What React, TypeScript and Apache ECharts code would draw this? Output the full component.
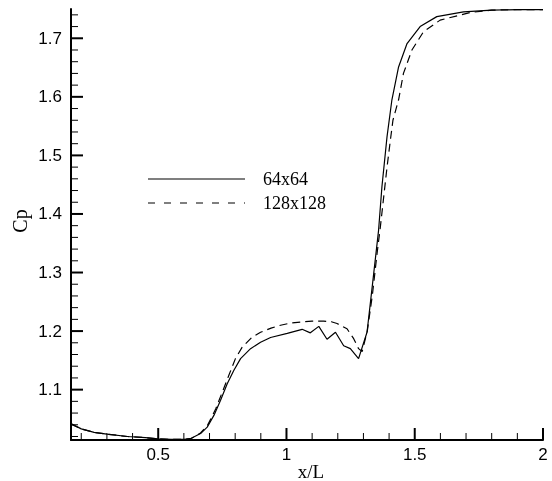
import React, { useEffect, useRef } from "react";
import * as echarts from "echarts";

const xCoarse = [0.16, 0.2, 0.25, 0.3, 0.38, 0.45, 0.5, 0.55, 0.6, 0.627, 0.665, 0.691, 0.717, 0.743, 0.769, 0.795, 0.821, 0.86, 0.899, 0.938, 1.003, 1.061, 1.093, 1.126, 1.158, 1.191, 1.223, 1.249, 1.281, 1.314, 1.34, 1.359, 1.372, 1.392, 1.411, 1.437, 1.47, 1.521, 1.586, 1.69, 1.8, 1.9, 2.0];
const cpCoarse = [1.042, 1.033, 1.027, 1.024, 1.020, 1.018, 1.016, 1.015, 1.015, 1.0165, 1.025, 1.036, 1.056, 1.082, 1.110, 1.133, 1.153, 1.170, 1.181, 1.189, 1.196, 1.203, 1.197, 1.208, 1.186, 1.198, 1.175, 1.170, 1.153, 1.198, 1.298, 1.372, 1.446, 1.532, 1.595, 1.651, 1.691, 1.720, 1.737, 1.745, 1.748, 1.749, 1.749];

const xFine = [0.16, 0.2, 0.25, 0.3, 0.38, 0.45, 0.5, 0.55, 0.6, 0.63, 0.665, 0.691, 0.724, 0.75, 0.775, 0.801, 0.828, 0.867, 0.899, 0.94, 0.977, 1.02, 1.067, 1.1, 1.145, 1.175, 1.197, 1.236, 1.262, 1.281, 1.295, 1.315, 1.335, 1.353, 1.366, 1.379, 1.392, 1.405, 1.415, 1.437, 1.456, 1.489, 1.534, 1.599, 1.716, 1.8, 1.9, 2.0];
const cpFine = [1.041, 1.033, 1.027, 1.024, 1.020, 1.018, 1.016, 1.015, 1.015, 1.017, 1.026, 1.038, 1.067, 1.096, 1.124, 1.153, 1.173, 1.190, 1.198, 1.205, 1.210, 1.214, 1.216, 1.217, 1.217, 1.216, 1.213, 1.204, 1.187, 1.170, 1.165, 1.200, 1.262, 1.332, 1.378, 1.429, 1.480, 1.526, 1.560, 1.595, 1.640, 1.680, 1.711, 1.731, 1.744, 1.748, 1.749, 1.749];

const xMajorTicks = [0.5, 1, 1.5, 2];
const xMinorTicks = [0.2, 0.3, 0.4, 0.6, 0.7, 0.8, 0.9, 1.1, 1.2, 1.3, 1.4, 1.6, 1.7, 1.8, 1.9];
const yMajorTicks = [1.1, 1.2, 1.3, 1.4, 1.5, 1.6, 1.7];
const yMinorTicks = [1.02, 1.04, 1.06, 1.08, 1.12, 1.14, 1.16, 1.18, 1.22, 1.24, 1.26, 1.28, 1.32, 1.34, 1.36, 1.38, 1.42, 1.44, 1.46, 1.48, 1.52, 1.54, 1.56, 1.58, 1.62, 1.64, 1.66, 1.68, 1.72, 1.74];

const seriesNames = ["64x64", "128x128"];

export default function App() {
  const ref = useRef<HTMLDivElement>(null);
  useEffect(() => {
    if (!ref.current) return;
    const chart = echarts.init(ref.current, null, { renderer: "svg" });
    const XMIN = 0.16, XMAX = 2, YMIN = 1.014, YMAX = 1.75;

    const makeStatic = (): any[] => [
      { type: "line", shape: { x1: 148, y1: 179, x2: 245, y2: 179 }, style: { stroke: "#000", lineWidth: 1.2 } },
      { type: "line", shape: { x1: 148, y1: 203, x2: 245, y2: 203 }, style: { stroke: "#000", lineWidth: 1.2, lineDash: [7, 9] } },
      { type: "text", x: 263, y: 179, style: { text: seriesNames[0], fill: "#000", font: "18px 'Liberation Serif'", textVerticalAlign: "middle", verticalAlign: "middle" } },
      { type: "text", x: 263, y: 203, style: { text: seriesNames[1], fill: "#000", font: "18px 'Liberation Serif'", textVerticalAlign: "middle", verticalAlign: "middle" } },
      { type: "text", x: 311, y: 471, style: { text: "x/L", fill: "#000", font: "19px 'Liberation Serif'", align: "center", verticalAlign: "middle", textAlign: "center", textVerticalAlign: "middle" } },
      { type: "text", x: 20, y: 221, rotation: Math.PI / 2, style: { text: "Cp", fill: "#000", font: "20px 'Liberation Serif'", align: "center", verticalAlign: "middle", textAlign: "center", textVerticalAlign: "middle" } },
    ];

    chart.setOption({
      animation: false,
      grid: { left: 71, right: 9, top: 9, bottom: 41, containLabel: false, outerBoundsMode: "none" },
      xAxis: {
        type: "value",
        min: XMIN,
        max: XMAX,
        axisLine: { show: true, onZero: false, lineStyle: { color: "#000", width: 2 } },
        axisTick: { show: false },
        axisLabel: { show: true, customValues: xMajorTicks, margin: 6, color: "#000", fontSize: 17, fontFamily: "Liberation Sans" },
        splitLine: { show: false },
      },
      yAxis: {
        type: "value",
        min: YMIN,
        max: YMAX,
        axisLine: { show: true, onZero: false, lineStyle: { color: "#000", width: 2 } },
        axisTick: { show: false },
        axisLabel: { show: true, customValues: yMajorTicks, margin: 9, color: "#000", fontSize: 17, fontFamily: "Liberation Sans" },
        splitLine: { show: false },
      },
      series: [
        {
          name: seriesNames[0],
          type: "line",
          showSymbol: false,
          symbol: "none",
          data: xCoarse.map((x, i) => [x, cpCoarse[i]]),
          lineStyle: { color: "#000", width: 1.2 },
        },
        {
          name: seriesNames[1],
          type: "line",
          showSymbol: false,
          symbol: "none",
          data: xFine.map((x, i) => [x, cpFine[i]]),
          lineStyle: { color: "#000", width: 1.2, type: [8, 5] },
        },
      ],
      graphic: makeStatic(),
    });

    const tickLines: any[] = [];
    const addX = (vals: number[], len: number, w: number) => {
      vals.forEach((v) => {
        const p = chart.convertToPixel({ gridIndex: 0 }, [v, YMIN]);
        tickLines.push({ type: "line", shape: { x1: p[0], y1: p[1], x2: p[0], y2: p[1] - len }, style: { stroke: "#000", lineWidth: w } });
      });
    };
    const addY = (vals: number[], len: number, w: number) => {
      vals.forEach((v) => {
        const p = chart.convertToPixel({ gridIndex: 0 }, [XMIN, v]);
        tickLines.push({ type: "line", shape: { x1: p[0], y1: p[1], x2: p[0] + len, y2: p[1] }, style: { stroke: "#000", lineWidth: w } });
      });
    };
    addX(xMajorTicks, 12, 2);
    addX(xMinorTicks, 7, 1);
    addY(yMajorTicks, 12, 2);
    addY(yMinorTicks, 7, 1);
    chart.setOption({ graphic: makeStatic().concat(tickLines) });

    return () => chart.dispose();
  }, []);
  return <div ref={ref} style={{ position: "fixed", left: 0, top: 0, width: 552, height: 481 }} />;
}
